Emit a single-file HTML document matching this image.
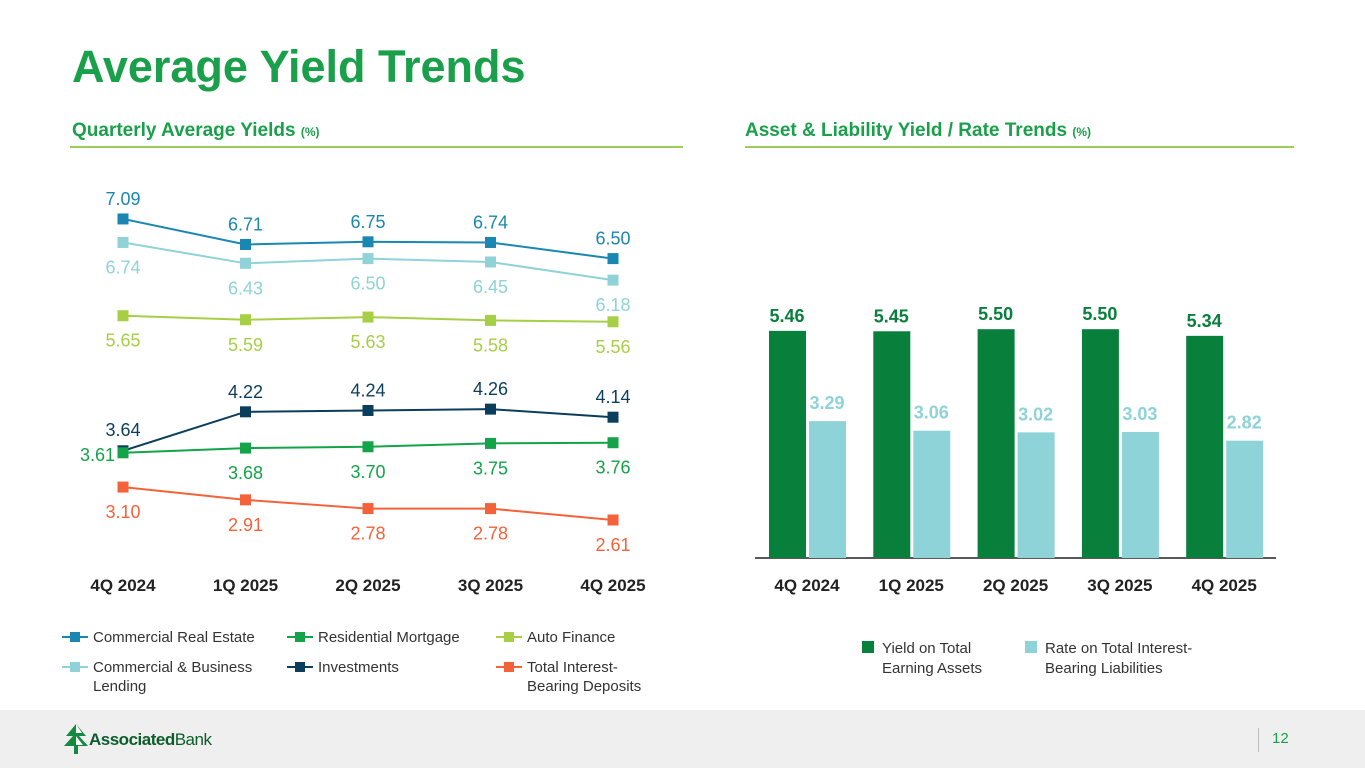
<!DOCTYPE html>
<html><head><meta charset="utf-8"><style>
body{margin:0;width:1365px;height:768px;overflow:hidden;background:#fff;font-family:"Liberation Sans",Arial,sans-serif;position:relative}
.abs{position:absolute}
</style></head><body>
<div class="abs" style="left:72px;top:41px;font-size:45px;font-weight:bold;color:#1aa04a">Average Yield Trends</div>
<div class="abs" style="left:72px;top:120px;font-size:19px;font-weight:bold;color:#1aa04a">Quarterly Average Yields <span style="font-size:12px">(%)</span></div>
<div class="abs" style="left:70px;top:146px;width:613px;height:2px;background:#9ccf5a"></div>
<div class="abs" style="left:745px;top:120px;font-size:19px;font-weight:bold;color:#1aa04a">Asset &amp; Liability Yield / Rate Trends <span style="font-size:12px">(%)</span></div>
<div class="abs" style="left:745px;top:146px;width:549px;height:2px;background:#9ccf5a"></div>
<svg id="chart" class="abs" style="left:0;top:0" width="1365" height="710"></svg>
<div class="abs" style="left:0;top:710px;width:1365px;height:58px;background:#efefef">
<svg class="abs" style="left:64px;top:14px" width="24" height="30"><path d="M12 0 L2 12 L9 12 L0 22 L10 22 L10 30 L14 30 L14 22 L24 22 L15 12 L22 12Z" fill="#138a3e"/><path d="M12 0 L18 9 L12 9Z M12 12 L19 21 L12 21Z" fill="#fff"/></svg>
<div class="abs" style="left:89px;top:20px;font-size:17px;color:#0c5d2c;letter-spacing:-0.5px"><b>Associated</b>Bank</div>
<div class="abs" style="left:1258px;top:18px;width:1px;height:24px;background:#bbb"></div>
<div class="abs" style="left:1272px;top:20px;font-size:15px;color:#1aa04a">12</div>
</div>
<script>
const quarters=["4Q 2024","1Q 2025","2Q 2025","3Q 2025","4Q 2025"];
const cre=[7.09,6.71,6.75,6.74,6.50];
const cbl=[6.74,6.43,6.50,6.45,6.18];
const auto=[5.65,5.59,5.63,5.58,5.56];
const inv=[3.64,4.22,4.24,4.26,4.14];
const resi=[3.61,3.68,3.70,3.75,3.76];
const dep=[3.10,2.91,2.78,2.78,2.61];
const yieldAssets=[5.46,5.45,5.50,5.50,5.34];
const rateLiab=[3.29,3.06,3.02,3.03,2.82];
const svg=document.getElementById('chart');
const NS='http://www.w3.org/2000/svg';
function mk(t,a,txt){const e=document.createElementNS(NS,t);for(const k in a)e.setAttribute(k,a[k]);if(txt!=null)e.textContent=txt;svg.appendChild(e);return e;}
const lx=i=>123+i*122.5, ly=v=>695.4-67.2*v;
const series=[
 {n:'commercial-real-estate',d:cre,c:'#1a87b2',tc:'#1a87b2',pos:'above'},
 {n:'commercial-business-lending',d:cbl,c:'#8fd3d8',tc:'#8fd3d8',pos:'below'},
 {n:'auto-finance',d:auto,c:'#a6cf46',tc:'#a6cf46',pos:'below'},
 {n:'investments',d:inv,c:'#0b3d5c',tc:'#0b3d5c',pos:'above'},
 {n:'residential-mortgage',d:resi,c:'#14a349',tc:'#14a349',pos:'below'},
 {n:'total-interest-bearing-deposits',d:dep,c:'#f4623a',tc:'#f4623a',pos:'below'}];
series.forEach(s=>{
 const p=mk('polyline',{points:s.d.map((v,i)=>lx(i)+','+ly(v)).join(' '),fill:'none',stroke:s.c,'stroke-width':2});
 
 
 s.d.forEach((v,i)=>{
  const r=mk('rect',{x:lx(i)-5.5,y:ly(v)-5.5,width:11,height:11,fill:s.c});
  
  
  let tx=lx(i),ty=s.pos==='above'?ly(v)-14:ly(v)+31,anc='middle';
  if(s.n==='residential-mortgage'&&i===0){tx=lx(0)-8;ty=ly(v)+8;anc='end';}
  if(s.n==='investments'&&i===0){ty=ly(v)-15;}
  const t=mk('text',{x:tx,y:ty,'text-anchor':anc,'font-size':18,fill:s.tc},v.toFixed(2));
  
  
 });
});
quarters.forEach((q,i)=>{
 const t=mk('text',{x:lx(i),y:591,'text-anchor':'middle','font-size':17,'font-weight':'bold',fill:'#222'},q);
 
 
});
const base=558, k=41.6, bx=i=>769+i*104.3;
mk('line',{x1:755,x2:1276,y1:base,y2:base,stroke:'#222','stroke-width':1.5});
quarters.forEach((q,i)=>{
 const h1=yieldAssets[i]*k,h2=rateLiab[i]*k;
 const b1=mk('rect',{x:bx(i),y:base-h1,width:37,height:h1,fill:'#087f3a'});
 
 
 const b2=mk('rect',{x:bx(i)+40,y:base-h2,width:37,height:h2,fill:'#8dd3d8'});
 
 
 const t1=mk('text',{x:bx(i)+18,y:base-h1-9,'text-anchor':'middle','font-size':18,'font-weight':'bold',fill:'#087f3a'},yieldAssets[i].toFixed(2));
 
 
 const t2=mk('text',{x:bx(i)+58,y:base-h2-12,'text-anchor':'middle','font-size':18,'font-weight':'bold',fill:'#8dd3d8'},rateLiab[i].toFixed(2));
 
 
 const t=mk('text',{x:bx(i)+38,y:591,'text-anchor':'middle','font-size':17,'font-weight':'bold',fill:'#222'},q);
 
 
});
const leg=[[62,637,'#1a87b2',['Commercial Real Estate']],[287,637,'#14a349',['Residential Mortgage']],[496,637,'#a6cf46',['Auto Finance']],
[62,667,'#8fd3d8',['Commercial & Business','Lending']],[287,667,'#0b3d5c',['Investments']],[496,667,'#f4623a',['Total Interest-','Bearing Deposits']]];
leg.forEach(l=>{
 const g=mk('line',{x1:l[0],x2:l[0]+26,y1:l[1],y2:l[1],stroke:l[2],'stroke-width':2});
 
 
 mk('rect',{x:l[0]+8,y:l[1]-5,width:10,height:10,fill:l[2]});
 l[3].forEach((s,j)=>{const t=mk('text',{x:l[0]+31,y:l[1]+5+j*19,'font-size':15,fill:'#333'},s);
  
  });
});
[[862,'#087f3a',['Yield on Total','Earning Assets']],[1025,'#8dd3d8',['Rate on Total Interest-','Bearing Liabilities']]].forEach(l=>{
 const r=mk('rect',{x:l[0],y:641,width:12,height:12,fill:l[1]});
 
 
 l[2].forEach((s,j)=>{const t=mk('text',{x:l[0]+20,y:653+j*20,'font-size':15,fill:'#333'},s);
  
  });
});
</script>
</body></html>
